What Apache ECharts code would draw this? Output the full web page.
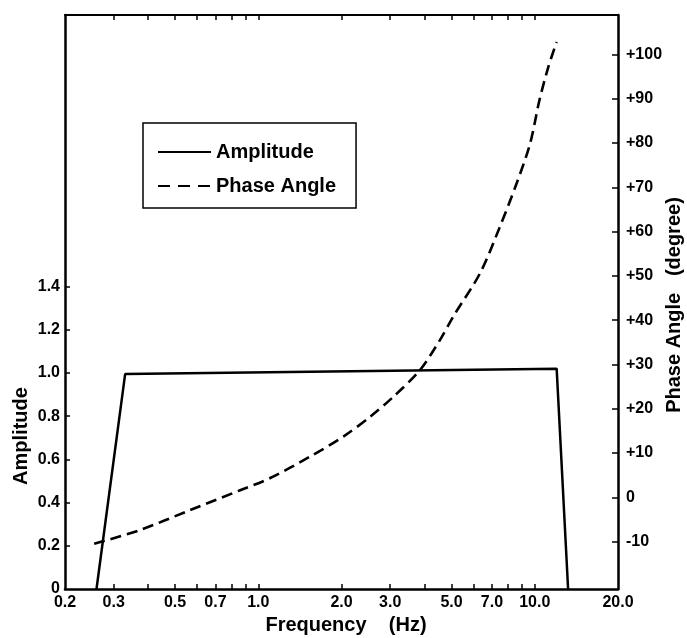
<!DOCTYPE html>
<html>
<head>
<meta charset="utf-8">
<script src="https://cdn.jsdelivr.net/npm/echarts@6/dist/echarts.min.js"></script>
<style>
  html, body { margin: 0; padding: 0; background: #fff; }
  #chart { width: 687px; height: 638px; }
</style>
</head>
<body>
<div id="chart"></div>
<script>
// amplitude response (band-pass)
var ampFreq = [0.26, 0.33, 12.0, 13.2]
var ampValue = [0, 0.995, 1.02, 0]

// phase angle (degree)
var phaseFreq = [0.255, 0.373, 0.566, 0.86, 1.10, 1.54, 2.03, 2.54, 3.08, 3.84, 4.54, 5.07, 6.34, 7.48, 8.6, 9.62, 10.4, 11.2, 12.0]
var phaseValue = [-10.5, -7.4, -2.9, 1.6, 4.3, 9.2, 13.7, 18.2, 22.7, 28.7, 35.5, 40.8, 50.6, 61.1, 70.9, 79.9, 89.7, 97.2, 102.8]

// tick labels
var freqLabels = [0.2, 0.3, 0.5, 0.7, 1, 2, 3, 5, 7, 10, 20]
var freqTicks = [0.3, 0.4, 0.5, 0.6, 0.7, 0.8, 0.9, 1, 2, 3, 4, 5, 6, 7, 8, 9, 10]
var ampLabels = [0, 0.2, 0.4, 0.6, 0.8, 1.0, 1.2, 1.4]
var ampTicks = [0.2, 0.4, 0.6, 0.8, 1.0, 1.2, 1.4]
var phaseLabels = [-10, 0, 10, 20, 30, 40, 50, 60, 70, 80, 90, 100]

var font = 'Liberation Sans, Arial, Helvetica, sans-serif'
var chart = echarts.init(document.getElementById('chart'))

var xBase = {
  type: 'log',
  logBase: 10,
  min: 0.2,
  max: 20,
  splitLine: { show: false },
  minorTick: { show: false },
  axisTick: { inside: true, length: 5, customValues: freqTicks, lineStyle: { color: '#000', width: 1.5 } }
}

var option = {
  animation: false,
  backgroundColor: '#fff',
  grid: { left: 65, right: 69, top: 15, bottom: 49 },
  legend: {
    orient: 'vertical',
    left: 143,
    top: 123,
    padding: [19, 20, 12, 14],
    itemGap: 14,
    itemWidth: 53,
    itemHeight: 14,
    borderColor: '#000',
    borderWidth: 1.5,
    itemStyle: { color: 'transparent', borderColor: 'transparent', borderWidth: 0 },
    textStyle: { fontSize: 20, fontWeight: 'bold', color: '#000', fontFamily: font },
    data: [
      { name: 'Amplitude' },
      { name: 'Phase Angle', lineStyle: { type: [12, 8] } }
    ]
  },
  xAxis: [
    Object.assign({}, xBase, {
      position: 'bottom',
      axisLine: { onZero: false, lineStyle: { color: '#000', width: 2.5 } },
      axisLabel: {
        customValues: freqLabels,
        margin: 6,
        color: '#000',
        fontSize: 16,
        fontWeight: 'bold',
        fontFamily: font,
        formatter: function (v) { return Number(v).toFixed(1) }
      }
    }),
    Object.assign({}, xBase, {
      position: 'top',
      axisLine: { onZero: false, lineStyle: { color: '#000', width: 2 } },
      axisLabel: { show: false }
    })
  ],
  yAxis: [
    {
      type: 'value',
      position: 'left',
      min: 0,
      max: 2.657,
      splitLine: { show: false },
      axisLine: { show: true, onZero: false, lineStyle: { color: '#000', width: 2.5 } },
      axisTick: { inside: true, length: 5, customValues: ampTicks, lineStyle: { color: '#000', width: 1.5 } },
      axisLabel: {
        customValues: ampLabels,
        margin: 5,
        color: '#000',
        fontSize: 16,
        fontWeight: 'bold',
        fontFamily: font,
        formatter: function (v) { return v === 0 ? '0' : Number(v).toFixed(1) }
      }
    },
    {
      type: 'value',
      position: 'right',
      min: -20.7,
      max: 108.9,
      splitLine: { show: false },
      axisLine: { show: true, onZero: false, lineStyle: { color: '#000', width: 2.5 } },
      axisTick: { inside: true, length: 6, customValues: phaseLabels, lineStyle: { color: '#000', width: 1.5 } },
      axisLabel: {
        customValues: phaseLabels,
        margin: 8,
        color: '#000',
        fontSize: 16,
        fontWeight: 'bold',
        fontFamily: font,
        formatter: function (v) { return v > 0 ? '+' + v : '' + v }
      }
    }
  ],
  series: [
    {
      name: 'Amplitude',
      type: 'line',
      xAxisIndex: 0,
      yAxisIndex: 0,
      symbol: 'none',
      data: ampFreq.map(function (f, i) { return [f, ampValue[i]] }),
      lineStyle: { color: '#000', width: 2.5 },
      itemStyle: { color: '#000' }
    },
    {
      name: 'Phase Angle',
      type: 'line',
      xAxisIndex: 0,
      yAxisIndex: 1,
      symbol: 'none',
      smooth: 0.3,
      data: phaseFreq.map(function (f, i) { return [f, phaseValue[i]] }),
      lineStyle: { color: '#000', width: 2.6, type: [11, 6] },
      itemStyle: { color: '#000' }
    }
  ],
  graphic: [
    {
      type: 'text', x: 346, y: 625,
      style: { text: 'Frequency    (Hz)', align: 'center', verticalAlign: 'middle', fill: '#000', font: 'bold 20px ' + font }
    },
    {
      type: 'text', x: 21, y: 436, rotation: Math.PI / 2,
      style: { text: 'Amplitude', align: 'center', verticalAlign: 'middle', fill: '#000', font: 'bold 20px ' + font }
    },
    {
      type: 'text', x: 674, y: 305, rotation: Math.PI / 2,
      style: { text: 'Phase Angle   (degree)', align: 'center', verticalAlign: 'middle', fill: '#000', font: 'bold 20px ' + font }
    }
  ]
}

chart.setOption(option)
</script>
</body>
</html>
